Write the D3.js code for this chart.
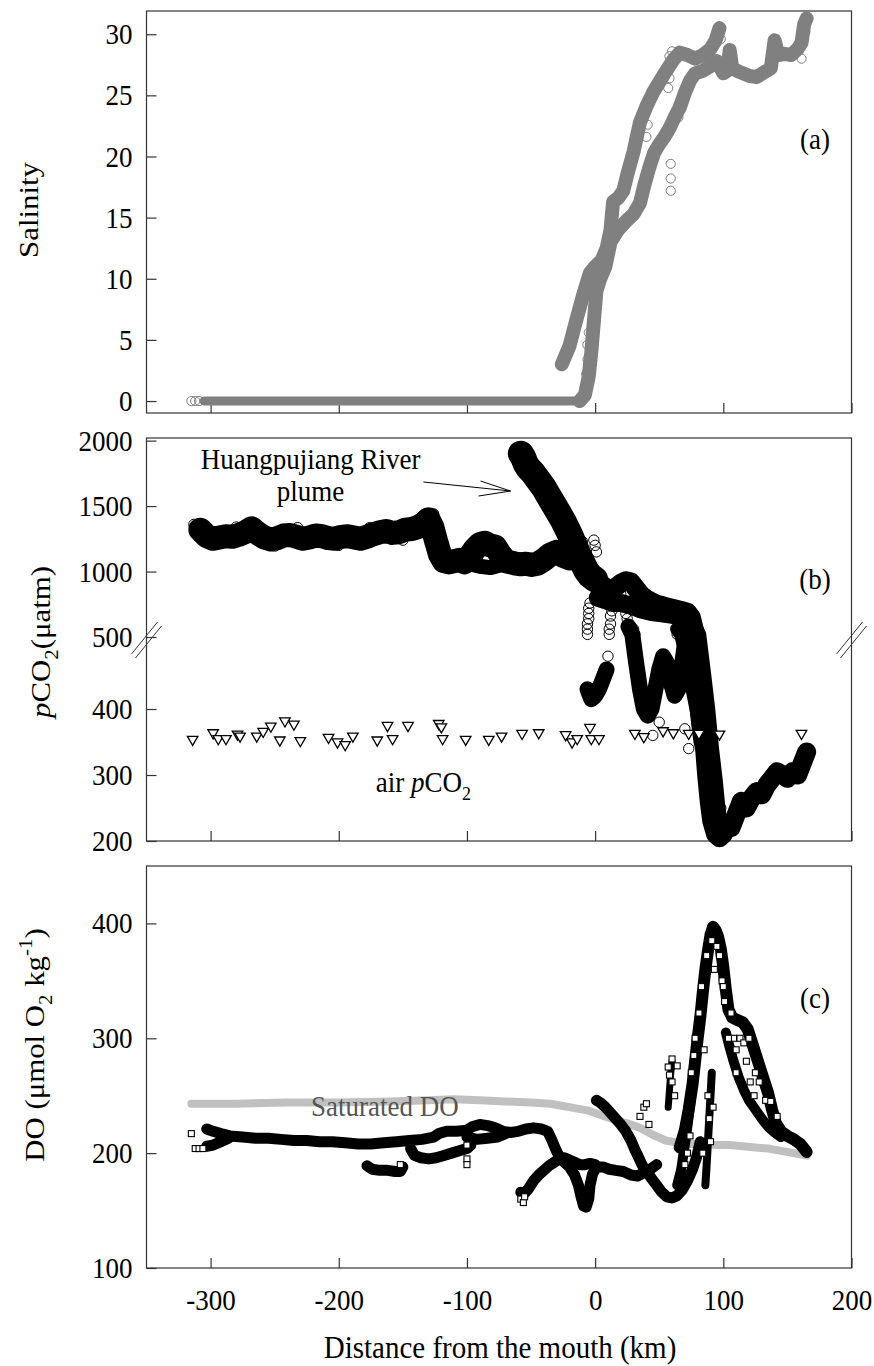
<!DOCTYPE html>
<html>
<head>
<meta charset="utf-8">
<script src="https://cdn.jsdelivr.net/npm/d3@7"></script>
<style>
  body { margin: 0; background: #fff; }
  text { font-family: "Liberation Serif", "Times New Roman", serif; fill: #000; }
</style>
</head>
<body>
<div id="chart"></div>
<script>
// x = distance from the mouth (km), y = value

// (a) salinity
var salFlat = [[-305,0],[-250,0],[-200,0],[-150,0],[-100,0],[-50,0],[-12,0]];
var salLower = [[-12,0],[-8,0.5],[-5,2],[-3,4],[-1,6.5],[1,9],[4,10],[8,11],
  [12,13],[18,14],[25,14.8],[30,15.3],[35,16.2],[38,17.5],[42,19],[46,20.3],[50,21],[54,21.6],[58,22.3],[62,23.2],[66,24],
  [70,25.2],[74,26.2],[78,26.8],[84,27],[90,27.4],[95,27.8],[100,26.8],[103,27],[105,28.7],[107,27.2],[113,26.9],[120,26.6],
  [126,26.5],[132,26.9],[137,27.2],[140,29.5],[143,28.3],[148,28.4],[153,28.3],[158,28.8],[161,29.3],[163,30.8],[165,31.3]];
var salUpper = [[-26,3],[-20,4.5],[-15,6.5],[-9,8.8],[-4,10.5],[0,11],[5,11.5],[9,12.5],[12,14],[14,16.3],[18,16.6],[22,17.2],
  [25,18.5],[30,20.4],[35,22.8],[40,24.1],[45,25.2],[53,26.6],[61,27.9],[66,28.5],[72,28.3],[78,28],[84,28.3],[90,28.8],
  [94,29.5],[97,30.5]];
var salOpen = [[-315,0],[-312,0],[-309,0],[-7,2.2],[-6,3.4],[-6,4.6],[-5,5.6],[40,21.6],[41,22.6],[57,25.6],[58,26.4],
  [59,27.6],[60,28.6],[58,28.2],[59,17.2],[59,18.2],[59,19.4],[65,23.2],[65,24.2],[98,29.6],[161,28],[163,29.6],[164,30.2]];

// (b) water pCO2 (µatm)
var co2Upstream = [[-308,1320],[-303,1270],[-298,1250],[-293,1260],[-288,1270],[-283,1265],[-278,1280],[-273,1300],[-268,1330],
  [-263,1290],[-258,1260],[-253,1245],[-248,1255],[-243,1275],[-238,1280],[-233,1265],[-228,1250],[-223,1260],[-218,1275],
  [-213,1270],[-208,1255],[-203,1250],[-198,1265],[-193,1270],[-188,1260],[-183,1250],[-178,1265],[-173,1285],[-168,1300],
  [-163,1310],[-158,1295],[-153,1300],[-148,1320],[-143,1325],[-138,1340],[-133,1370],[-130,1400],[-127,1340],[-124,1230],
  [-121,1130],[-118,1080],[-114,1070],[-110,1080],[-106,1090],[-102,1070],[-98,1110],[-94,1170],[-90,1210],[-86,1220],
  [-82,1200],[-78,1190],[-74,1130],[-70,1080],[-66,1070],[-62,1060],[-58,1055],[-54,1060],[-50,1050],[-45,1060],
  [-40,1090],[-35,1130],[-30,1150],[-25,1120],[-20,1100]];
var co2Loop = [[-98,1060],[-90,1040],[-82,1030],[-74,1050],[-70,1070]];
var co2Plume = [[-58,1900],[-56,1870],[-54,1820],[-52,1790],[-49,1760],[-46,1720],[-43,1680],[-40,1640],[-37,1590],[-34,1540],
  [-31,1490],[-28,1440],[-25,1390],[-22,1330],[-19,1270],[-16,1200],[-13,1130],[-10,1070],[-7,1010],[-4,970],[0,940]];
var co2Shelf = [[0,940],[4,910],[8,880],[12,860],[16,880],[20,910],[24,930],[28,920],[32,870],[36,820],[40,790],[44,770],
  [48,750],[52,740],[56,730],[60,720],[64,710],[68,700],[72,690],[75,650],[77,570],[79,500],[81,440],[83,400],[85,350],
  [87,300],[89,260],[91,230],[94,210],[97,205],[100,210],[103,225],[106,220],[110,240],[114,260],[118,250],[122,265],
  [126,275],[130,270],[134,285],[138,295],[142,305],[146,300],[150,295],[154,305],[158,300],[162,320],[165,335]];
var co2Mid = [[2,800],[8,780],[14,760],[20,760],[28,740],[36,710],[44,690],[52,680],[60,670],[68,650],[74,620]];
var co2Drop = [[64,560],[67,520],[70,490],[73,460],[76,430],[79,400],[82,370],[85,330],[88,290],[91,255],[94,225],[97,210]];
var co2Drop2 = [[78,600],[82,520],[86,450],[89,400],[92,340],[95,290],[97,250],[99,220]];
var co2Low = [[-6,430],[-3,415],[0,420],[3,430],[6,445],[9,460]];
var co2Vee = [[26,580],[29,520],[32,470],[35,430],[38,400],[41,390],[44,400],[47,430],[50,460],[53,480],[56,470],[59,440],
  [62,420],[65,430],[68,470],[71,520],[74,560],[77,480],[79,420],[81,380],[83,350],[86,330]];
var co2Open = [[-313,1360],[-311,1350],[-309,1340],[-280,1340],[-250,1195],[-232,1335],[-200,1200],[-176,1335],[-150,1240],
  [-135,1420],[-126,1440],[-58,1910],[-60,1905],[-40,1700],[-36,1650],[-28,1500],[-20,1400],
  [-15,1300],[-10,1230],[-1,1240],[0,1200],[1,1150],[-6,520],[-6,560],[-6,600],[-5,640],[-5,680],[-5,720],[-4,760],
  [10,480],[11,520],[11,560],[12,600],[12,660],[13,700],[13,740],[20,830],[22,780],[23,730],[24,680],[25,640],[30,560],
  [31,520],[64,520],[85,380],[86,360],[87,340],[88,320],[90,300],[96,240],[98,250],[45,360],[50,380],[70,370],[73,340]];
// (b) air pCO2 (µatm)
var co2Air = [[-314,354],[-298,364],[-294,355],[-288,355],[-279,362],[-277,359],[-264,359],[-259,366],[-253,374],[-246,353],
  [-242,382],[-235,377],[-230,352],[-208,357],[-201,350],[-195,346],[-189,359],[-170,353],[-162,375],[-158,355],[-146,375],
  [-122,378],[-120,373],[-119,355],[-101,354],[-83,354],[-73,359],[-57,363],[-44,364],[-23,361],[-18,350],[-14,355],
  [-4,372],[-3,355],[3,355],[31,363],[38,358],[53,367],[61,364],[73,363],[81,363],[97,362],[161,363]];

// (c) DO (µmol O2 kg-1)
var doSat = [[-315,243],[-280,243],[-240,244],[-200,244],[-160,245],[-130,246],[-110,247],[-90,246],[-70,245],[-50,244],
  [-35,243],[-25,241],[-15,239],[-5,237],[5,233],[15,229],[25,226],[35,222],[45,216],[55,211],[65,209],[75,208],[85,208],
  [95,207],[105,207],[115,206],[125,205],[135,204],[145,202],[155,200],[165,198]];
var doMain = [[-303,221],[-298,219],[-292,217],[-285,215],[-275,214],[-265,213],[-255,213],[-245,212],[-235,211],[-225,211],
  [-215,210],[-205,210],[-195,209],[-185,208],[-175,208],[-165,209],[-155,210],[-145,211],[-135,212],[-126,214],[-122,217],
  [-116,219],[-108,219],[-100,220],[-96,223],[-90,225],[-84,224],[-78,222],[-72,219],[-66,218],[-60,219],[-54,221],
  [-48,222],[-42,221],[-37,219],[-34,212],[-31,204],[-28,197],[-24,192],[-20,188],[-16,181],[-13,172],[-11,162],[-9,154],
  [-7,153],[-5,160],[-4,172],[-2,182],[1,188],[6,188],[11,186],[16,185],[22,184],[28,181],[33,180],[38,183],[43,186],[48,190]];
var doLoop = [[-100,214],[-92,212],[-84,213],[-76,214],[-70,217]];
var doLeft = [[-303,206],[-298,207],[-292,210],[-286,213]];
var doMid = [[-144,204],[-141,198],[-136,196],[-130,195],[-124,196],[-118,198],[-112,200],[-106,202],[-100,204],[-97,207]];
var doShort = [[-178,189],[-174,186],[-168,185],[-162,185],[-156,184],[-152,184],[-150,188]];
var doRise = [[-58,166],[-55,165],[-52,169],[-48,176],[-44,181],[-40,185],[-36,189],[-32,192],[-28,195],[-24,196],[-20,194],
  [-16,192],[-12,190],[-8,190],[-4,191],[0,190]];
var doCurve = [[1,246],[4,244],[8,240],[12,235],[16,230],[20,225],[24,219],[28,211],[31,203],[34,196],[37,189],[40,184],
  [44,178],[48,172],[52,166],[56,162],[60,161],[64,163],[68,168],[72,176],[76,186],[79,196],[82,210]];
var doPeak = [[66,205],[70,220],[73,238],[76,260],[78,280],[80,300],[82,318],[84,340],[86,360],[88,376],[90,390],[92,397],
  [94,394],[96,388],[98,378],[100,362],[102,342],[104,325],[107,318],[111,316],[115,314],[119,308],[123,294],[127,280],
  [131,266],[135,252],[138,238],[141,226],[145,219],[150,215],[155,212],[160,208],[163,204],[165,201]];
var doBranch = [[102,305],[105,292],[108,280],[112,266],[116,255],[120,246],[125,238],[130,230],[135,223],[140,218],[145,214]];
var doBase = [[64,172],[67,185],[69,200],[71,215],[73,232],[75,250]];
var doColumn = [[86,172],[87,190],[88,210],[89,230],[90,250],[91,270]];
var doSpike = [[57,240],[58,255],[59,270],[60,280]];
var doOpen = [[-315,217],[-312,204],[-309,204],[-306,204],[-152,190],[-100,207],[-100,195],[-100,190],[-58,160],[-56,157],
  [-55,162],[35,232],[38,240],[40,243],[42,225],[57,275],[58,268],[60,262],[62,250],[64,276],[60,282],[70,190],[72,200],
  [74,215],[88,250],[89,230],[90,210],[108,300],[110,290],[118,280],[121,262],[78,300],[81,322],[83,345],[85,290],
  [93,360],[97,372],[99,350],[101,332],[104,300],[113,300],[116,296],[125,270],[128,262],[133,246],[92,240],[84,200],
  [75,270],[77,285],[87,372],[91,385],[95,380],[100,345],[106,322],[120,300],[137,245],[142,232],[110,270],[124,250]];

var xTicks = [-300, -200, -100, 0, 100, 200];
var salTicks = [0, 5, 10, 15, 20, 25, 30];
var co2Ticks = [200, 300, 400, 500, 1000, 1500, 2000];
var doTicks = [100, 200, 300, 400];

var W = 874, H = 1366;
var left = 146.5, right = 851.5;
var panelA = { top: 11, bottom: 413 };
var panelB = { top: 438, bottom: 841 };
var panelC = { top: 866, bottom: 1268 };
var stretch = 1.1; // the source figure is drawn a little taller than wide

var svg = d3.select("#chart").append("svg")
  .attr("width", W)
  .attr("height", H);

svg.append("rect").attr("width", W).attr("height", H).attr("fill", "#fff");

var x = d3.scaleLinear().domain([-350, 200]).range([left, right]);
var ySal = d3.scaleLinear().domain([-0.98, 31.9]).range([panelA.bottom, panelA.top]);
// broken axis: 200-500 and 500-2020 on separate stretches
var yCO2 = d3.scaleLinear().domain([200, 497, 500, 2020]).range([panelB.bottom, 645, 637, panelB.top]);
var yDO = d3.scaleLinear().domain([100, 450]).range([panelC.bottom, panelC.top]);

function drawFrame(p, y, ticks, showX) {
  var g = svg.append("g");
  var yAxis = d3.axisLeft(y)
    .tickValues(ticks)
    .tickSizeInner(-10)
    .tickSizeOuter(0)
    .tickPadding(14)
    .tickFormat(function(d) { return String(d); });
  g.append("g")
    .attr("transform", "translate(" + left + ",0)")
    .call(yAxis);
  var xAxis = d3.axisBottom(x)
    .tickValues(xTicks)
    .tickSizeInner(-10)
    .tickSizeOuter(0)
    .tickPadding(19)
    .tickFormat(function(d) { return showX ? String(d) : ""; });
  g.append("g")
    .attr("transform", "translate(0," + p.bottom + ")")
    .call(xAxis);
  g.selectAll(".domain").remove();
  g.selectAll(".tick line").attr("stroke", "#333").attr("stroke-width", 1.2);
  g.selectAll(".tick text")
    .style("font-family", "'Liberation Serif', 'Times New Roman', serif")
    .style("font-size", "27px")
    .attr("transform", "scale(1," + stretch + ")")
    .attr("fill", "#000");
  g.append("rect")
    .attr("x", left)
    .attr("y", p.top)
    .attr("width", right - left)
    .attr("height", p.bottom - p.top)
    .attr("fill", "none")
    .attr("stroke", "#333")
    .attr("stroke-width", 1.2);
  return g;
}

function band(y, data, color, width) {
  var line = d3.line()
    .x(function(d) { return x(d[0]); })
    .y(function(d) { return y(d[1]); });
  svg.append("path")
    .datum(data)
    .attr("d", line)
    .attr("fill", "none")
    .attr("stroke", color)
    .attr("stroke-width", width)
    .attr("stroke-linejoin", "round")
    .attr("stroke-linecap", "round");
}

function circles(y, data, color, r, fill) {
  svg.append("g").selectAll("circle")
    .data(data)
    .enter().append("circle")
    .attr("cx", function(d) { return x(d[0]); })
    .attr("cy", function(d) { return y(d[1]); })
    .attr("r", r)
    .attr("fill", fill)
    .attr("stroke", color)
    .attr("stroke-width", 1);
}

function squares(y, data, s) {
  svg.append("g").selectAll("rect")
    .data(data)
    .enter().append("rect")
    .attr("x", function(d) { return x(d[0]) - s / 2; })
    .attr("y", function(d) { return y(d[1]) - s / 2; })
    .attr("width", s)
    .attr("height", s)
    .attr("fill", "#fff")
    .attr("stroke", "#000")
    .attr("stroke-width", 1.1);
}

// ---- panel (a) ----
drawFrame(panelA, ySal, salTicks, false);
band(ySal, salFlat, "#808080", 9);
band(ySal, salLower, "#808080", 14);
band(ySal, salUpper, "#808080", 14);
circles(ySal, salLower, "#808080", 4.6, "none");
circles(ySal, salUpper, "#808080", 4.6, "none");
circles(ySal, salOpen, "#808080", 4.6, "none");

// ---- panel (b) ----
drawFrame(panelB, yCO2, co2Ticks, false);
band(yCO2, co2Upstream, "#000", 24);
band(yCO2, co2Loop, "#000", 15);
band(yCO2, co2Plume, "#000", 26);
band(yCO2, co2Shelf, "#000", 19);
band(yCO2, co2Mid, "#000", 18);
band(yCO2, co2Drop, "#000", 14);
band(yCO2, co2Drop2, "#000", 12);
band(yCO2, co2Low, "#000", 16);
band(yCO2, co2Vee, "#000", 16);
[co2Upstream, co2Plume, co2Vee, co2Open].forEach(function(s) {
  circles(yCO2, s, "#000", 5.2, "none");
});

var tri = d3.symbol().type(d3.symbolTriangle).size(48);
svg.append("g").selectAll("path")
  .data(co2Air)
  .enter().append("path")
  .attr("d", tri)
  .attr("transform", function(d) { return "translate(" + x(d[0]) + "," + yCO2(d[1]) + ") rotate(180)"; })
  .attr("fill", "#fff")
  .attr("stroke", "#000")
  .attr("stroke-width", 1.3);

// axis break marks
var by = yCO2(500) + 3;
[left, right].forEach(function(ax) {
  [-2, 2].forEach(function(o) {
    svg.append("line")
      .attr("x1", ax - 13 + o).attr("y1", by + 16 + o)
      .attr("x2", ax + 13 + o).attr("y2", by - 16 + o)
      .attr("stroke", "#333")
      .attr("stroke-width", 1);
  });
});

// ---- panel (c) ----
drawFrame(panelC, yDO, doTicks, true);
band(yDO, doSat, "#c0c0c0", 8);
[doMain, doLoop, doLeft, doMid, doShort, doRise, doCurve].forEach(function(s) {
  band(yDO, s, "#000", 11);
});
band(yDO, doPeak, "#000", 12);
band(yDO, doBranch, "#000", 10);
band(yDO, doBase, "#000", 10);
band(yDO, doColumn, "#000", 8);
band(yDO, doSpike, "#000", 7);
squares(yDO, doOpen, 6);

// ---- labels ----
function label(tx, ty, str, size) {
  return svg.append("text")
    .attr("transform", "translate(" + tx + "," + ty + ") scale(1," + stretch + ")")
    .attr("text-anchor", "middle")
    .style("font-size", size + "px")
    .text(str);
}

label(815, 149, "(a)", 27);
label(815, 589, "(b)", 27);
label(815, 1008, "(c)", 27);

label(x(-222), yCO2(1780), "Huangpujiang River", 27);
label(x(-222), yCO2(1540), "plume", 27);

// arrow to the plume
var ax0 = x(-134), ay0 = yCO2(1684), ax1 = x(-66), ay1 = yCO2(1615);
svg.append("line").attr("x1", ax0).attr("y1", ay0).attr("x2", ax1).attr("y2", ay1)
  .attr("stroke", "#000").attr("stroke-width", 1);
svg.append("line").attr("x1", ax1).attr("y1", ay1).attr("x2", ax1 - 30).attr("y2", ay1 - 10)
  .attr("stroke", "#000").attr("stroke-width", 1);
svg.append("line").attr("x1", ax1).attr("y1", ay1).attr("x2", ax1 - 32).attr("y2", ay1 + 5)
  .attr("stroke", "#000").attr("stroke-width", 1);

var air = svg.append("text")
  .attr("transform", "translate(" + x(-134) + "," + yCO2(274) + ") scale(1," + stretch + ")")
  .attr("text-anchor", "middle")
  .style("font-size", "27px");
air.append("tspan").text("air ");
air.append("tspan").style("font-style", "italic").text("p");
air.append("tspan").text("CO");
air.append("tspan").attr("dy", 7).style("font-size", "18px").text("2");

label(x(-164), yDO(232), "Saturated DO", 27).style("fill", "#555");

label(500, 1358, "Distance from the mouth (km)", 29);

function yTitle(tx, ty) {
  return svg.append("text")
    .attr("transform", "translate(" + tx + "," + ty + ") scale(1," + stretch + ") rotate(-90)")
    .attr("text-anchor", "middle")
    .style("font-size", "28px");
}

yTitle(38, 210).text("Salinity");

var t2 = yTitle(50, 642);
t2.append("tspan").style("font-style", "italic").text("p");
t2.append("tspan").text("CO");
t2.append("tspan").attr("dy", 8).style("font-size", "19px").text("2");
t2.append("tspan").attr("dy", -8).text("(\u03bcatm)");

var t3 = yTitle(44, 1045);
t3.append("tspan").text("DO (\u03bcmol O");
t3.append("tspan").attr("dy", 8).style("font-size", "19px").text("2");
t3.append("tspan").attr("dy", -8).text(" kg");
t3.append("tspan").attr("dy", -12).style("font-size", "19px").text("-1");
t3.append("tspan").attr("dy", 12).text(")");
</script>
</body>
</html>
